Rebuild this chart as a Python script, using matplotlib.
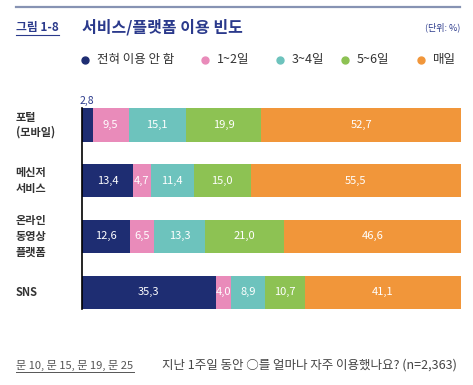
import numpy as np
import matplotlib.pyplot as plt
from matplotlib.lines import Line2D

plt.rcParams['font.family'] = ['Noto Sans CJK KR', 'DejaVu Sans']

categories = ['포털\n(모바일)', '메신저\n서비스', '온라인\n동영상\n플랫폼', 'SNS']
series_names = ['전혀 이용 안 함', '1~2일', '3~4일', '5~6일', '매일']
never = [2.8, 13.4, 12.6, 35.3]
d12 = [9.5, 4.7, 6.5, 4.0]
d34 = [15.1, 11.4, 13.3, 8.9]
d56 = [19.9, 15.0, 21.0, 10.7]
daily = [52.7, 55.5, 46.6, 41.1]
series = [never, d12, d34, d56, daily]
colors = ['#1e2d72', '#e98bba', '#6dc3bd', '#8dc253', '#f1963a']

W, H = 473, 385
fig = plt.figure(figsize=(W / 100, H / 100), dpi=100)

def fx(px):
    return px / W

def fy(py):
    return 1 - py / H

ax = fig.add_axes([fx(82), fy(309), fx(461) - fx(82), fy(108) - fy(309)])
y = np.arange(len(categories))
left = np.zeros(len(categories))
for vals, c in zip(series, colors):
    vals = np.array(vals)
    ax.barh(y, vals, left=left, height=0.6, color=c, edgecolor='none')
    for yi, v, l in zip(y, vals, left):
        if v >= 3.5:
            ax.text(l + v / 2, yi, f'{v:.1f}'.replace('.', ','), ha='center', va='center',
                    color='white', fontsize=8)
    left += vals
# small value above first bar
ax.text(never[0] / 2, -0.33, f'{never[0]:.1f}'.replace('.', ','), ha='center', va='bottom',
        color='#2b3a8c', fontsize=7.5)

ax.set_xlim(0, 100)
ax.set_ylim(3.3, -0.3)
ax.set_xticks([])
ax.set_yticks([])
for s in ['top', 'right', 'bottom']:
    ax.spines[s].set_visible(False)
ax.spines['left'].set_color('black')
ax.spines['left'].set_linewidth(1.2)

for yi, cat in zip(y, categories):
    ax.text(-0.175, yi, cat, transform=ax.get_yaxis_transform(), ha='left', va='center',
            fontsize=8, fontweight='bold', color='#333333', linespacing=1.25)

# header
fig.add_artist(Line2D([fx(16), fx(460)], [fy(7), fy(7)], color='#8793b3', lw=1.6))
fig.text(fx(16), fy(27), '그림 1-8', fontsize=8.5, fontweight='bold', color='#2b3a8c', va='center')
fig.add_artist(Line2D([fx(16), fx(59)], [fy(35), fy(35)], color='#2b3a8c', lw=0.8))
fig.text(fx(82), fy(27), '서비스/플랫폼 이용 빈도', fontsize=11.5, fontweight='bold',
         color='#2b3a8c', va='center')
fig.text(fx(460), fy(27), '(단위: %)', fontsize=6.5, color='#2b3a8c', va='center', ha='right')

# legend
leg_x = [85, 205, 280, 345, 421]
for lx, name, c in zip(leg_x, series_names, colors):
    fig.add_artist(Line2D([fx(lx)], [fy(60)], marker='o', markersize=5, color=c, lw=0))
    fig.text(fx(lx + 12), fy(60), name, fontsize=9, color='#333333', va='center',
             fontweight='medium')

# footer
fig.text(fx(16), fy(365), '문 10, 문 15, 문 19, 문 25', fontsize=8, color='#555555', va='center',
         fontweight='medium')
fig.add_artist(Line2D([fx(16), fx(134)], [fy(372), fy(372)], color='#555555', lw=0.7))
fig.text(fx(457), fy(365), '지난 1주일 동안 ○를 얼마나 자주 이용했나요? (n=2,363)', fontsize=9,
         color='#444444', va='center', ha='right', fontweight='medium')

fig.savefig('out.png', dpi=100)
